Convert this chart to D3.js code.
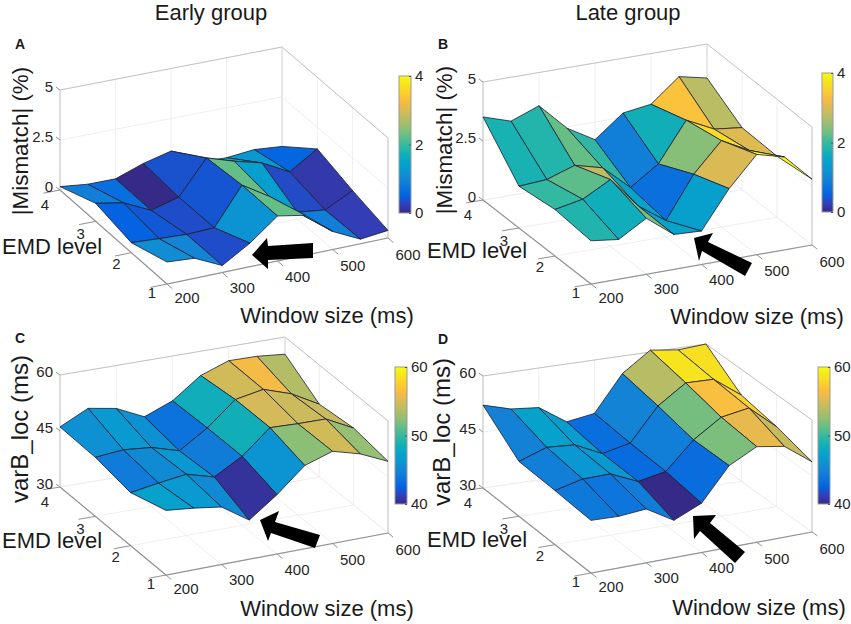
<!DOCTYPE html>
<html>
<head>
<meta charset="utf-8">
<script src="https://cdn.jsdelivr.net/npm/d3@7"></script>
<style>
	html, body { margin: 0; padding: 0; background: #fff; }
	svg { display: block; }
	text { font-family: "Liberation Sans", Arial, sans-serif; fill: #1a1a1a; }
	.tick-label { font-size: 15px; fill: #262626; }
	.axis-label { font-size: 22px; }
	.panel-label { font-size: 14px; font-weight: bold; }
</style>
</head>
<body>
<div id="chart"></div>
<script>
// grid of the surfaces
const windowSizes	= [200, 250, 300, 350, 400, 450, 500, 550, 600];
const emdLevels		= [4, 3, 2, 1];

const windowTicks	= [200, 300, 400, 500, 600];
const emdTicks		= [1, 2, 3, 4];
const mismatchTicks	= [0, 2.5, 5];
const varBTicks		= [30, 45, 60];
const mismatchBarTicks	= [0, 2, 4];
const varBBarTicks	= [40, 50, 60];

// one row per EMD level (4 to 1), one column per window size
const mismatchEarly = [
	[0.17, 0.02, 0.02, 0.52, 0.87, 0.05, 0.00, 0.14, 0.03],
	[0.90, 0.65, 0.00, 0.38, 2.07, 1.63, 1.27, 0.55, 1.42],
	[0.50, 0.42, 0.35, 0.40, 2.25, 1.40, 0.33, 0.17, 0.85],
	[1.10, 1.00, 0.35, 1.18, 2.25, 2.00, 0.90, 0.23, 0.38]
];
const mismatchLate = [
	[3.52, 3.14, 3.59, 2.44, 1.75, 2.68, 2.85, 3.82, 3.56],
	[1.77, 1.85, 2.25, 1.94, 0.90, 1.70, 3.35, 2.77, 2.63],
	[1.97, 2.20, 2.83, 1.50, 0.68, 2.44, 3.66, 3.04, 2.59],
	[1.83, 1.68, 2.37, 1.48, 1.42, 3.01, 4.25, 3.94, 2.79]
];
const varBEarly = [
	[46.1, 49.8, 48.5, 45.0, 48.0, 53.5, 56.2, 56.1, 55.4],
	[45.8, 46.5, 45.8, 43.6, 48.4, 54.7, 56.1, 53.6, 49.5],
	[44.2, 45.4, 46.4, 44.3, 48.5, 54.8, 54.5, 54.4, 50.6],
	[47.3, 46.5, 45.4, 40.5, 45.9, 52.3, 54.7, 52.6, 49.2]
];
const varBLate = [
	[52.2, 50.1, 49.4, 44.5, 45.7, 55.3, 60.5, 59.5, 60.0],
	[44.7, 47.3, 46.8, 43.3, 44.9, 53.7, 58.7, 58.5, 53.1],
	[44.5, 46.3, 46.4, 43.1, 44.5, 51.7, 56.5, 57.7, 51.4],
	[44.1, 43.8, 44.4, 40.0, 43.2, 51.9, 55.6, 54.3, 48.8]
];

// parula, sampled
const parula = ['#352a87', '#323fba', '#0363e1', '#0d75dc', '#1485d4', '#0998d1', '#06a4ca', '#15b1b4',
	'#37b99e', '#65be86', '#92bf73', '#b7bd64', '#d9ba56', '#f8bb44', '#fcce2e', '#f5e51d', '#f9fb0e'];

const panels = [
	{ letter: 'A', letterPos: [20, 49], values: mismatchEarly, zDomain: [0, 5], zTicks: mismatchTicks, cDomain: [0, 4], barTicks: mismatchBarTicks,
		back200: [60, 190], front200: [167, 284], front600: [388, 238], back600: [282, 147], zHeight: 100,
		zLabel: '|Mismatch| (%)', zLabelPos: [28, 141], zLabelSize: 22.4,
		xLabelPos: [327, 323], yLabelPos: [2, 254], bar: [399, 76, 12, 137],
		arrow: [[313, 243], [268, 246], [267, 238], [252, 255], [268, 269], [268, 260], [313, 258]] },
	{ letter: 'B', letterPos: [443, 49], values: mismatchLate, zDomain: [0, 5], zTicks: mismatchTicks, cDomain: [0, 4], barTicks: mismatchBarTicks,
		back200: [483, 200], front200: [591, 284], front600: [812, 245], back600: [707, 162], zHeight: 118,
		zLabel: '|Mismatch| (%)', zLabelPos: [452, 140], zLabelSize: 22.4,
		xLabelPos: [757, 324], yLabelPos: [427, 258], bar: [822, 73, 11, 139],
		arrow: [[694, 238], [713, 233], [708, 242], [752, 263], [745, 276], [702, 251], [699, 261]] },
	{ letter: 'C', letterPos: [20, 343], values: varBEarly, zDomain: [30, 60], zTicks: varBTicks, cDomain: [40, 60], barTicks: varBBarTicks,
		back200: [60, 487], front200: [166, 575], front600: [388, 533], back600: [285, 449], zHeight: 112,
		zLabel: 'varB_loc (ms)', zLabelPos: [28, 429], zLabelSize: 24,
		xLabelPos: [327, 616], yLabelPos: [2, 548], bar: [395, 367, 12, 137],
		arrow: [[260, 520], [279, 511], [275, 522], [320, 535], [315, 548], [271, 533], [268, 541]] },
	{ letter: 'D', letterPos: [443, 344], values: varBLate, zDomain: [30, 60], zTicks: varBTicks, cDomain: [40, 60], barTicks: varBBarTicks,
		back200: [483, 488], front200: [591, 573], front600: [812, 532], back600: [706, 456], zHeight: 112,
		zLabel: 'varB_loc (ms)', zLabelPos: [450, 432], zLabelSize: 24,
		xLabelPos: [759, 615], yLabelPos: [427, 547], bar: [818, 367, 12, 137],
		arrow: [[693, 516], [716, 515], [710, 523], [745, 552], [735, 563], [700, 531], [694, 539]] }
];

const canvasWidth	= 851;
const canvasHeight	= 624;

let svg = d3.select('#chart').append('svg')
	.attr('width', canvasWidth)
	.attr('height', canvasHeight);

svg.append('defs');

svg.append('text').attr('class', 'axis-label').attr('x', 211).attr('y', 20).attr('text-anchor', 'middle').text('Early group');
svg.append('text').attr('class', 'axis-label').attr('x', 628).attr('y', 20).attr('text-anchor', 'middle').text('Late group');

panels.forEach(drawPanel);

function mix(a, b, t) {
	return [a[0] + (b[0] - a[0]) * t, a[1] + (b[1] - a[1]) * t];
}

function drawPanel(panel, index) {
	let g = svg.append('g').attr('class', 'panel-' + panel.letter);

	let x = d3.scaleLinear().domain([200, 600]).range([0, 1]);
	let y = d3.scaleLinear().domain([4, 1]).range([0, 1]);
	let z = d3.scaleLinear().domain(panel.zDomain).range([0, panel.zHeight]);

	let color = d3.scaleSequential(d3.piecewise(d3.interpolateRgb, parula))
		.domain(panel.cDomain)
		.clamp(true);

	// floor position from the four corners, the value lifts it up
	function project(win, emd, val) {
		let left	= mix(panel.back200, panel.front200, y(emd));
		let right	= mix(panel.back600, panel.front600, y(emd));
		let p		= mix(left, right, x(win));
		return [p[0], p[1] - z(val)];
	}

	let line = d3.line();
	let zMin = panel.zDomain[0];
	let zMax = panel.zDomain[1];

	function wall(points, stroke, width) {
		g.append('path')
			.attr('d', line(points))
			.attr('fill', 'none')
			.attr('stroke', stroke)
			.attr('stroke-width', width);
	}

	// grid on floor and back walls
	windowTicks.forEach((w) => {
		wall([project(w, 1, zMin), project(w, 4, zMin), project(w, 4, zMax)], '#eeeeee', 1);
	});
	emdTicks.forEach((e) => {
		wall([project(200, e, zMin), project(600, e, zMin), project(600, e, zMax)], '#eeeeee', 1);
	});
	panel.zTicks.forEach((t) => {
		wall([project(200, 4, t), project(600, 4, t), project(600, 1, t)], '#eeeeee', 1);
	});

	// box
	wall([project(200, 4, zMin), project(200, 4, zMax), project(600, 4, zMax), project(600, 1, zMax), project(600, 1, zMin)], '#c4c4c4', 1);
	wall([project(600, 4, zMin), project(600, 4, zMax)], '#dcdcdc', 1);
	wall([project(200, 4, zMin), project(200, 1, zMin), project(600, 1, zMin)], '#929292', 1.2);

	// axis ticks
	windowTicks.forEach((w) => {
		let p = project(w, 1, zMin);
		let q = project(w, 0.85, zMin);
		wall([p, q], '#929292', 1);
		g.append('text').attr('class', 'tick-label')
			.attr('x', p[0] + 20).attr('y', p[1] + 19.4 + x(w) * 2.6)
			.attr('text-anchor', 'middle')
			.text(w);
	});
	emdTicks.forEach((e) => {
		let p = project(200, e, zMin);
		let q = project(170, e, zMin);
		wall([p, q], '#929292', 1);
		g.append('text').attr('class', 'tick-label')
			.attr('x', p[0] - 15).attr('y', p[1] + 14 + (e - 1) * 2)
			.attr('text-anchor', 'middle')
			.text(e);
	});
	panel.zTicks.forEach((t) => {
		let p = project(200, 4, t);
		wall([p, [p[0] - 4, p[1] - 3]], '#929292', 1);
		g.append('text').attr('class', 'tick-label')
			.attr('x', p[0] - 7).attr('y', p[1] + 2)
			.attr('text-anchor', 'end')
			.text(t);
	});

	// surface faces, far corner first; each face takes the colour of its front left vertex
	let faces = [];
	emdLevels.slice(0, -1).forEach((emd, j) => {
		d3.range(windowSizes.length - 2, -1, -1).forEach((i) => {
			faces.push({
				points: [
					project(windowSizes[i], emd, panel.values[j][i]),
					project(windowSizes[i + 1], emd, panel.values[j][i + 1]),
					project(windowSizes[i + 1], emdLevels[j + 1], panel.values[j + 1][i + 1]),
					project(windowSizes[i], emdLevels[j + 1], panel.values[j + 1][i])
				],
				value: panel.values[j + 1][i]
			});
		});
	});

	g.selectAll('.face')
		.data(faces).enter().append('path')
			.attr('class', 'face')
			.attr('d', (o) => (line(o.points) + 'Z'))
			.attr('fill', (o) => (color(o.value)))
			.attr('stroke', '#1c1c30')
			.attr('stroke-width', 0.8)
			.attr('stroke-linejoin', 'round');

	// arrow
	g.append('path')
		.attr('d', line(panel.arrow) + 'Z')
		.attr('fill', '#000');

	// colour bar
	let bar = panel.bar;
	let gradId = 'bar-grad-' + index;
	let grad = svg.select('defs').append('linearGradient')
		.attr('id', gradId)
		.attr('x1', 0).attr('y1', 1).attr('x2', 0).attr('y2', 0);
	grad.selectAll('stop')
		.data(parula).enter().append('stop')
			.attr('offset', (o, i) => (i / (parula.length - 1)))
			.attr('stop-color', (o) => (o));

	g.append('rect')
		.attr('x', bar[0]).attr('y', bar[1])
		.attr('width', bar[2]).attr('height', bar[3])
		.attr('fill', 'url(#' + gradId + ')')
		.attr('stroke', '#9a9a9a')
		.attr('stroke-width', 1);

	let barScale = d3.scaleLinear().domain(panel.cDomain).range([bar[1] + bar[3], bar[1]]);
	let barAxis = g.append('g')
		.attr('transform', 'translate(' + (bar[0] + bar[2]) + ',0)')
		.call(d3.axisRight(barScale).tickValues(panel.barTicks).tickFormat(d3.format('d')).tickSize(-2).tickPadding(4));
	barAxis.attr('font-size', null).attr('font-family', null);
	barAxis.select('.domain').remove();
	barAxis.selectAll('.tick line').attr('stroke', '#555');
	barAxis.selectAll('.tick text').attr('class', 'tick-label');

	// labels
	g.append('text').attr('class', 'panel-label')
		.attr('x', panel.letterPos[0]).attr('y', panel.letterPos[1])
		.attr('text-anchor', 'middle')
		.text(panel.letter);

	g.append('text').attr('class', 'axis-label')
		.attr('text-anchor', 'middle')
		.attr('transform', 'translate(' + panel.zLabelPos[0] + ',' + panel.zLabelPos[1] + ') rotate(-90)')
		.style('font-size', panel.zLabelSize + 'px')
		.text(panel.zLabel);

	g.append('text').attr('class', 'axis-label')
		.attr('x', panel.xLabelPos[0]).attr('y', panel.xLabelPos[1])
		.attr('text-anchor', 'middle')
		.text('Window size (ms)');

	g.append('text').attr('class', 'axis-label')
		.attr('x', panel.yLabelPos[0]).attr('y', panel.yLabelPos[1])
		.text('EMD level');
}
</script>
</body>
</html>
